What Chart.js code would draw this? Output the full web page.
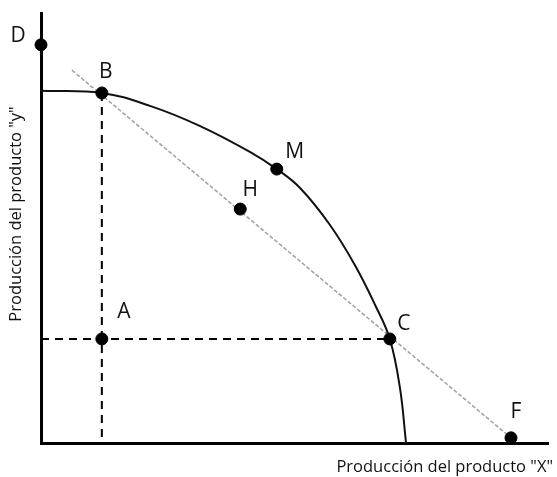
<!DOCTYPE html>
<html>
<head>
<meta charset="utf-8">
<script src="https://cdn.jsdelivr.net/npm/chart.js@4.4.0/dist/chart.umd.min.js"></script>
<style>
  html, body { margin: 0; padding: 0; background: #fff; }
  #wrap { width: 557px; height: 477px; }
</style>
</head>
<body>
<div id="wrap"><canvas id="myChart"></canvas></div>
<script>
// points (x and y in 0-100 units)
const pointNames = ['D', 'B', 'M', 'H', 'A', 'C', 'F'];
const pointX = [0, 12.0, 46.5, 39.3, 12.0, 68.8, 92.7];
const pointY = [92.6, 81.4, 63.7, 54.4, 24.2, 24.2, 1.2];

// production frontier
const curveX = [0, 12.0, 21.5, 31.4, 41.2, 46.5, 51.1, 57.0, 61.9, 65.9, 68.8, 70.8, 72.0];
const curveY = [81.9, 81.4, 78.4, 73.7, 67.7, 63.7, 59.3, 50.7, 41.4, 32.1, 24.2, 12.8, 0];

// straight line through B, H, C to F
const lineX = [6.1, 92.7];
const lineY = [86.7, 1.2];

const xTitle = 'Producción del producto "X"';
const yTitle = 'Producción del producto "y"';

const pts = (xs, ys) => xs.map((x, i) => ({ x: x, y: ys[i] }));

// label offsets in pixels, relative to each point
const labelOffsets = {
    D: [-23, -9], B: [4, -21], M: [18, -17], H: [10, -19],
    A: [22, -27], C: [14, -15], F: [5, -26]
};

const labelPlugin = {
    id: 'labels',
    afterDatasetsDraw(chart) {
        const ctx = chart.ctx;
        const xs = chart.scales.x, ys = chart.scales.y;
        ctx.save();
        ctx.fillStyle = '#111';
        ctx.font = '21px "Open Sans"';
        ctx.textAlign = 'center';
        ctx.textBaseline = 'middle';
        pointNames.forEach((n, i) => {
            const o = labelOffsets[n];
            ctx.fillText(n, xs.getPixelForValue(pointX[i]) + o[0], ys.getPixelForValue(pointY[i]) + o[1]);
        });
        // axis titles
        ctx.font = '16.5px "Open Sans"';
        ctx.textAlign = 'right';
        ctx.fillText(xTitle, 553, 467);
        ctx.translate(16, 214);
        ctx.rotate(-Math.PI / 2);
        ctx.textAlign = 'center';
        ctx.fillText(yTitle, 0, 0);
        ctx.restore();
    }
};

const data = {
    datasets: [{
        data: pts(pointX, pointY),
        pointRadius: 6,
        pointHoverRadius: 6,
        backgroundColor: '#000',
        borderColor: '#000',
        showLine: false,
        clip: false
    }, {
        data: pts(curveX, curveY),
        showLine: true,
        pointRadius: 0,
        borderColor: '#111',
        borderWidth: 2,
        tension: 0.4,
        clip: false
    }, {
        data: pts(lineX, lineY),
        showLine: true,
        pointRadius: 0,
        borderColor: '#a0a0a0',
        borderWidth: 1.5,
        borderDash: [4, 2]
    }, {
        data: [{ x: pointX[1], y: pointY[1] }, { x: pointX[1], y: 0 }],
        showLine: true,
        pointRadius: 0,
        borderColor: '#000',
        borderWidth: 2,
        borderDash: [8, 6]
    }, {
        data: [{ x: 0, y: pointY[5] }, { x: pointX[5], y: pointY[5] }],
        showLine: true,
        pointRadius: 0,
        borderColor: '#000',
        borderWidth: 2,
        borderDash: [8, 6]
    }]
};

const config = {
    type: 'scatter',
    data,
    options: {
        responsive: true,
        maintainAspectRatio: false,
        animation: false,
        layout: { padding: { left: 41, top: 13, right: 9, bottom: 34 } },
        plugins: {
            legend: { display: false },
            tooltip: { enabled: false }
        },
        scales: {
            x: {
                min: 0, max: 100,
                ticks: { display: false },
                grid: { display: false, drawTicks: false },
                border: { display: true, color: '#000', width: 3 }
            },
            y: {
                min: 0, max: 100,
                ticks: { display: false },
                grid: { display: false, drawTicks: false },
                border: { display: true, color: '#000', width: 3 }
            }
        }
    },
    plugins: [labelPlugin]
};

var myChart = new Chart(document.getElementById('myChart'), config);
</script>
</body>
</html>
